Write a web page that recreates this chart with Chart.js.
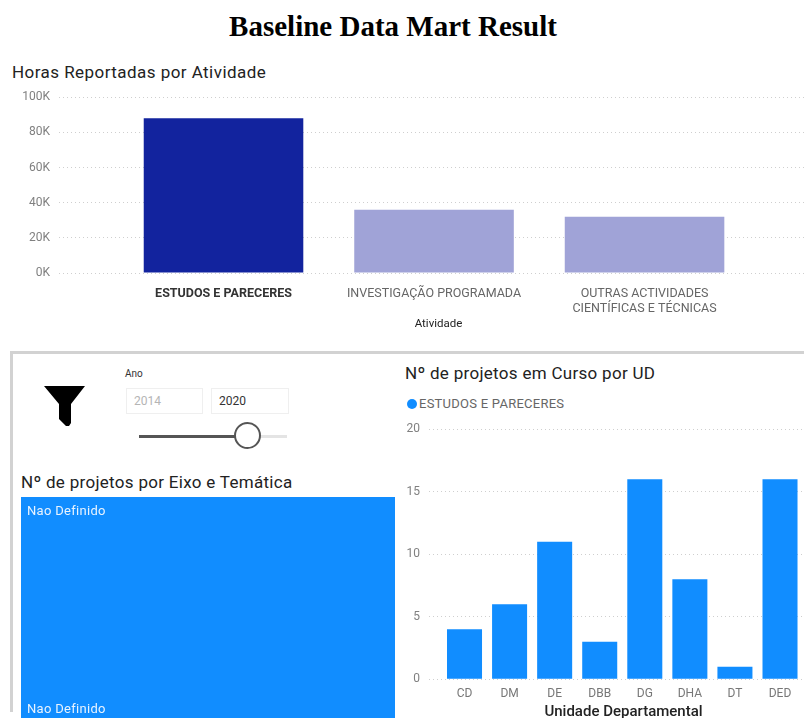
<!DOCTYPE html>
<html>
<head>
<meta charset="utf-8">
<title>Baseline Data Mart Result</title>
<script src="https://cdn.jsdelivr.net/npm/chart.js@4/dist/chart.umd.min.js"></script>
<style>
  html, body { margin: 0; padding: 0; background: #fff; overflow: hidden; width: 804px; height: 718px; }
  body { position: relative; font-family: Roboto, sans-serif; }
  .abs { position: absolute; white-space: nowrap; line-height: 1; }
  canvas { position: absolute; }
  #mainTitle { left: 0; width: 786px; text-align: center; top: 10px; font: bold 29px "Liberation Serif", serif; color: #000; }
  .visualTitle { font-size: 17px; color: #222; letter-spacing: 0.3px; }
  #panelTop { left: 10px; top: 351px; width: 794px; height: 3px; background: #d2d2d2; }
  #panelLeft { left: 10px; top: 351px; width: 3px; height: 361px; background: #d2d2d2; }
  .yearBox { top: 388px; height: 26px; border: 1px solid #efefef; box-sizing: border-box; font-size: 12px; line-height: 24px; padding-left: 7px; }
  #track { left: 139px; top: 435px; width: 148px; height: 3px; background: #e4e4e4; }
  #trackFill { left: 139px; top: 435px; width: 100px; height: 3px; background: #555; }
  #thumb { left: 234px; top: 422px; width: 27px; height: 27px; border: 2px solid #555; border-radius: 50%; background: #fff; box-sizing: border-box; }
  #legendDot { left: 407px; top: 399px; width: 10px; height: 10px; border-radius: 50%; background: #118dff; }
  .treeLabel { left: 27px; color: #e8f3ff; font-size: 13px; letter-spacing: 0.3px; }
</style>
</head>
<body>
<div class="abs" id="mainTitle">Baseline Data Mart Result</div>

<div class="abs visualTitle" style="left:12px;top:64px;letter-spacing:0.45px">Horas Reportadas por Atividade</div>
<canvas id="hoursChart" width="818" height="250" style="left:0;top:81px"></canvas>

<div class="abs" id="panelTop"></div>
<div class="abs" id="panelLeft"></div>

<svg class="abs" style="left:44px;top:386px" width="41" height="41" viewBox="0 0 41 41">
  <path d="M0 0 H41 L27 18 V37 L25 40 H22 L15 33 V18 Z" fill="#000"/>
</svg>

<div class="abs" style="left:125px;top:369px;font-size:10px;color:#333">Ano</div>
<div class="abs yearBox" style="left:126px;width:77px;color:#b5b5b5">2014</div>
<div class="abs yearBox" style="left:211px;width:78px;color:#333">2020</div>
<div class="abs" id="track"></div>
<div class="abs" id="trackFill"></div>
<div class="abs" id="thumb"></div>

<div class="abs visualTitle" style="left:21px;top:474px">Nº de projetos por Eixo e Temática</div>
<canvas id="themeChart" width="374" height="221" style="left:21px;top:497px"></canvas>
<div class="abs treeLabel" style="top:504px">Nao Definido</div>
<div class="abs treeLabel" style="top:702px">Nao Definido</div>

<div class="abs visualTitle" style="left:405px;top:365px">Nº de projetos em Curso por UD</div>
<div class="abs" id="legendDot"></div>
<div class="abs" style="left:419px;top:397px;font-size:13px;color:#666;letter-spacing:0.25px">ESTUDOS E PARECERES</div>
<canvas id="deptChart" width="418" height="308" style="left:400px;top:413px"></canvas>

<script>
// Hours reported per activity
const activityLabels = ['ESTUDOS E PARECERES', 'INVESTIGAÇÃO PROGRAMADA', ['OUTRAS ACTIVIDADES', 'CIENTÍFICAS E TÉCNICAS']];
const activityHours = [88000, 36000, 32000];
const activityColors = ['#12239e', '#a0a3d7', '#a0a3d7'];

// Running projects per department
const deptLabels = ['CD', 'DM', 'DE', 'DBB', 'DG', 'DHA', 'DT', 'DED'];
const deptProjects = [4, 6, 11, 3, 16, 8, 1, 16];

// Projects per theme, only one group exists
const themeLabels = ['Nao Definido'];
const themeProjects = [1];

const gridOptions = { color: '#cfcfcf', drawTicks: false };
const gridBorder = { display: false, dash: [1, 3] };

// x axis is linear so the bars can sit inside a wider plot than the band grid
function barChart(id, labels, values, colors, o) {
    return new Chart(document.getElementById(id), {
        type: 'bar',
        data: {
            datasets: [{
                data: values.map((v, i) => ({ x: i + 1, y: v })),
                backgroundColor: colors,
                barPercentage: o.barPercentage,
                categoryPercentage: 1
            }]
        },
        options: {
            responsive: false,
            animation: false,
            layout: { padding: { top: 10 } },
            plugins: { legend: { display: false }, tooltip: { enabled: false } },
            scales: {
                x: {
                    type: 'linear',
                    offset: false,
                    min: o.xMin,
                    max: o.xMax,
                    grid: { display: false, drawTicks: false },
                    border: { display: false },
                    afterBuildTicks: (scale) => { scale.ticks = labels.map((_, i) => ({ value: i + 1 })); },
                    afterFit: (scale) => { scale.height = o.xHeight; },
                    title: { display: true, text: o.xTitle, color: '#222', font: o.xTitleFont, padding: o.xTitlePadding },
                    ticks: {
                        autoSkip: false,
                        maxRotation: 0,
                        padding: o.tickPadding,
                        color: o.xTickColor,
                        font: o.xTickFont,
                        callback: (v) => labels[v - 1]
                    }
                },
                y: {
                    min: 0,
                    max: o.yMax,
                    grid: gridOptions,
                    border: gridBorder,
                    afterFit: (scale) => { scale.width = o.yWidth; },
                    ticks: {
                        stepSize: o.yStep,
                        padding: 9,
                        color: '#808080',
                        font: { family: 'Roboto', size: 12 },
                        callback: o.yFormat
                    }
                }
            }
        }
    });
}

barChart('hoursChart', activityLabels, activityHours, activityColors, {
    barPercentage: 0.758,
    xMin: 0.2185,
    xMax: 3.824,
    xHeight: 58,
    tickPadding: 13,
    xTitle: 'Atividade',
    xTitleFont: { family: 'Roboto', size: 11.5 },
    xTitlePadding: { top: 3, bottom: 0 },
    xTickColor: (ctx) => ctx.index === 0 ? '#333' : '#666',
    xTickFont: (ctx) => ({ family: 'Roboto', size: 12.5, weight: ctx.index === 0 ? 'bold' : 'normal' }),
    yMax: 100000,
    yStep: 20000,
    yWidth: 59,
    yFormat: (v) => (v / 1000) + 'K'
});

barChart('deptChart', deptLabels, deptProjects, '#118dff', {
    barPercentage: 0.777,
    xMin: 0.212,
    xMax: 8.843,
    xHeight: 41.7,
    tickPadding: 7,
    xTitle: 'Unidade Departamental',
    xTitleFont: { family: 'Roboto', size: 15, weight: '500' },
    xTitlePadding: { top: 2, bottom: 0 },
    xTickColor: '#777',
    xTickFont: { family: 'Roboto', size: 12 },
    yMax: 20,
    yStep: 5,
    yWidth: 29,
    yFormat: (v) => v
});

// Theme block: a single bar filling the whole canvas
new Chart(document.getElementById('themeChart'), {
    type: 'bar',
    data: {
        labels: themeLabels,
        datasets: [{ data: themeProjects, backgroundColor: '#118dff', barPercentage: 1, categoryPercentage: 1 }]
    },
    options: {
        responsive: false,
        animation: false,
        plugins: { legend: { display: false }, tooltip: { enabled: false } },
        scales: {
            x: { display: false },
            y: { display: false, min: 0, max: 1 }
        }
    }
});
</script>
</body>
</html>
